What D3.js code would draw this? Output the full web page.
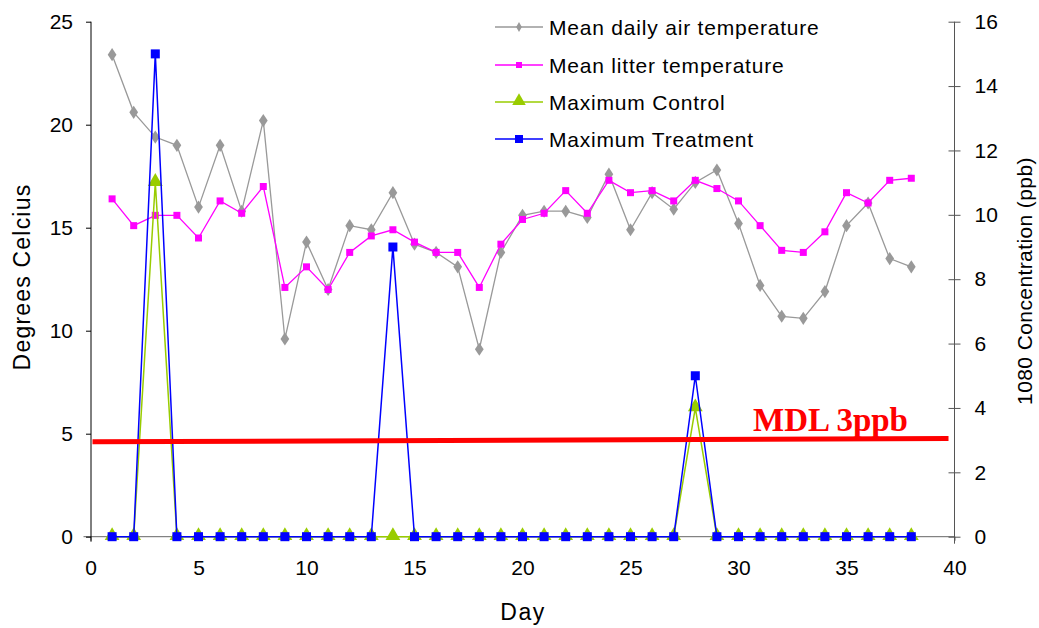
<!DOCTYPE html>
<html>
<head>
<meta charset="utf-8">
<script src="https://cdn.jsdelivr.net/npm/d3@7"></script>
<style>
  html, body { margin: 0; padding: 0; background: #fff; }
  svg { display: block; font-family: "Liberation Sans", Arial, sans-serif; }
</style>
</head>
<body>
<svg id="chart" width="1039" height="628"></svg>
<script>
const days = d3.range(1, 39);
const airTemp = [23.4, 20.6, 19.4, 19.0, 16.0, 19.0, 15.8, 20.2, 9.6, 14.3,
  12.0, 15.1, 14.9, 16.7, 14.2, 13.8, 13.1, 9.1, 13.8, 15.6,
  15.8, 15.8, 15.5, 17.6, 14.9, 16.7, 15.9, 17.2, 17.8, 15.2,
  12.2, 10.7, 10.6, 11.9, 15.1, 16.2, 13.5, 13.1];
const litterTemp = [16.4, 15.1, 15.6, 15.6, 14.5, 16.3, 15.7, 17.0, 12.1, 13.1,
  12.0, 13.8, 14.6, 14.9, 14.3, 13.8, 13.8, 12.1, 14.2, 15.4,
  15.7, 16.8, 15.7, 17.3, 16.7, 16.8, 16.3, 17.3, 16.9, 16.3,
  15.1, 13.9, 13.8, 14.8, 16.7, 16.2, 17.3, 17.4];
const maxControl = [0, 0, 11, 0, 0, 0, 0, 0, 0, 0,
  0, 0, 0, 0, 0, 0, 0, 0, 0, 0,
  0, 0, 0, 0, 0, 0, 0, 4, 0, 0,
  0, 0, 0, 0, 0, 0, 0, 0];
const maxTreatment = [0, 0, 15, 0, 0, 0, 0, 0, 0, 0,
  0, 0, 0, 9, 0, 0, 0, 0, 0, 0,
  0, 0, 0, 0, 0, 0, 0, 5, 0, 0,
  0, 0, 0, 0, 0, 0, 0, 0];
const mdlLine = [{x: 0, y: 2.95}, {x: 40, y: 3.05}];
const mdlLabel = "MDL 3ppb";
const xTicks = [0, 5, 10, 15, 20, 25, 30, 35, 40];
const leftTicks = [0, 5, 10, 15, 20, 25];
const rightTicks = [0, 2, 4, 6, 8, 10, 12, 14, 16];
const legendLabels = ["Mean daily air temperature", "Mean litter temperature", "Maximum Control", "Maximum Treatment"];

const svg = d3.select("#chart");
const x = d3.scaleLinear().domain([0, 40]).range([90.5, 954.5]);
const yL = d3.scaleLinear().domain([0, 25]).range([536.7, 21.7]);
const yR = d3.scaleLinear().domain([0, 16]).range([536.7, 21.7]);

const fs = "21px";
const ff = "Liberation Sans, Arial, sans-serif";
// x axis
const gx = svg.append("g").attr("transform", `translate(0,${yL(0)})`)
  .call(d3.axisBottom(x).tickValues(xTicks).tickSize(4).tickPadding(19));
gx.select(".domain").attr("stroke", "#666").attr("d", `M${x(0)-7},0H${x(40)}`);
gx.selectAll(".tick line").attr("stroke", "#666");
gx.selectAll("text").attr("font-size", fs).attr("fill", "#000").attr("font-family", ff);

// left axis
const gl = svg.append("g").attr("transform", `translate(${x(0) + 0.5},0)`)
  .call(d3.axisLeft(yL).tickValues(leftTicks).tickSize(5).tickPadding(13));
gl.select(".domain").attr("stroke", "#000").attr("d", `M0,${yL(25)}V${yL(0) + 5}`);
gl.selectAll(".tick line").attr("stroke", "#000");
gl.selectAll("text").attr("font-size", fs).attr("fill", "#000").attr("font-family", ff);

// right axis
const gr = svg.append("g").attr("transform", `translate(${x(40)},0)`)
  .call(d3.axisRight(yR).tickValues(rightTicks).tickSize(6).tickPadding(14));
gr.select(".domain").attr("stroke", "#555").attr("d", `M0,${yR(16)}V${yR(0) + 7}`);
gr.selectAll(".tick line").attr("stroke", "#555").attr("x1", -6);
gr.selectAll("text").attr("font-size", fs).attr("fill", "#000").attr("font-family", ff);

// axis titles
svg.append("text").attr("x", 523).attr("y", 620).attr("text-anchor", "middle")
  .attr("font-size", "23px").attr("letter-spacing", "1.5px").text("Day");
svg.append("text").attr("transform", "translate(30,277) rotate(-90)")
  .attr("text-anchor", "middle").attr("font-size", "23px").attr("letter-spacing", "1.2px")
  .text("Degrees Celcius");
svg.append("text").attr("transform", "translate(1032,281) rotate(-90)")
  .attr("text-anchor", "middle").attr("font-size", "21px").attr("letter-spacing", "0.4px")
  .text("1080 Concentration (ppb)");

// series
const lineL = d3.line().x((d, i) => x(days[i])).y(d => yL(d));
const lineR = d3.line().x((d, i) => x(days[i])).y(d => yR(d));

const diamond = d3.symbol().type(d3.symbolDiamond).size(50);
const tri = d3.symbol().type(d3.symbolTriangle).size(95);

// air temp
svg.append("path").datum(airTemp).attr("d", lineL).attr("fill", "none")
  .attr("stroke", "#999").attr("stroke-width", 1.3);
svg.append("g").selectAll("path").data(airTemp).join("path")
  .attr("d", diamond).attr("fill", "#999")
  .attr("transform", (d, i) => `translate(${x(days[i])},${yL(d)}) scale(1.15,1)`);

// litter temp
svg.append("path").datum(litterTemp).attr("d", lineL).attr("fill", "none")
  .attr("stroke", "#ff00ff").attr("stroke-width", 1.3);
svg.append("g").selectAll("rect").data(litterTemp).join("rect")
  .attr("x", (d, i) => x(days[i]) - 3.5).attr("y", d => yL(d) - 3.5)
  .attr("width", 7).attr("height", 7).attr("fill", "#ff00ff");

// control
svg.append("path").datum(maxControl).attr("d", lineR).attr("fill", "none")
  .attr("stroke", "#99cc00").attr("stroke-width", 1.5);
svg.append("g").selectAll("path").data(maxControl).join("path")
  .attr("d", tri).attr("fill", "#99cc00")
  .attr("transform", (d, i) => `translate(${x(days[i])},${yR(d) - 1})`);

// treatment
svg.append("path").datum(maxTreatment).attr("d", lineR).attr("fill", "none")
  .attr("stroke", "#0000ff").attr("stroke-width", 1.5);
svg.append("g").selectAll("rect").data(maxTreatment).join("rect")
  .attr("x", (d, i) => x(days[i]) - 4.5).attr("y", d => yR(d) - 4.5)
  .attr("width", 9).attr("height", 9).attr("fill", "#0000ff");

// MDL line
svg.append("line")
  .attr("x1", x(mdlLine[0].x) + 2).attr("y1", yR(mdlLine[0].y))
  .attr("x2", x(mdlLine[1].x) - 6).attr("y2", yR(mdlLine[1].y))
  .attr("stroke", "#ff0000").attr("stroke-width", 5);
svg.append("text").attr("x", 753).attr("y", 431)
  .attr("font-family", "Liberation Serif, 'Times New Roman', serif")
  .attr("font-weight", "bold").attr("font-size", "33px").attr("fill", "#ff0000")
  .text(mdlLabel);

// legend
const legColors = ["#999", "#ff00ff", "#99cc00", "#0000ff"];
const legY = [27, 65, 102, 139];
const lg = svg.append("g");
legendLabels.forEach((lab, i) => {
  const yy = legY[i];
  lg.append("line").attr("x1", 495).attr("x2", 543).attr("y1", yy).attr("y2", yy)
    .attr("stroke", legColors[i]).attr("stroke-width", 1.3);
  if (i === 0) {
    lg.append("path").attr("d", d3.symbol().type(d3.symbolDiamond).size(28))
      .attr("fill", legColors[i]).attr("transform", `translate(519,${yy})`);
  } else if (i === 1) {
    lg.append("rect").attr("x", 516).attr("y", yy - 3).attr("width", 6).attr("height", 6)
      .attr("fill", legColors[i]);
  } else if (i === 2) {
    lg.append("path").attr("d", d3.symbol().type(d3.symbolTriangle).size(80))
      .attr("fill", legColors[i]).attr("transform", `translate(519,${yy - 1})`);
  } else {
    lg.append("rect").attr("x", 515).attr("y", yy - 4).attr("width", 8).attr("height", 8)
      .attr("fill", legColors[i]);
  }
  lg.append("text").attr("x", 549).attr("y", yy + 7.5).attr("font-size", fs)
    .attr("letter-spacing", "0.8px").text(lab);
});
</script>
</body>
</html>
